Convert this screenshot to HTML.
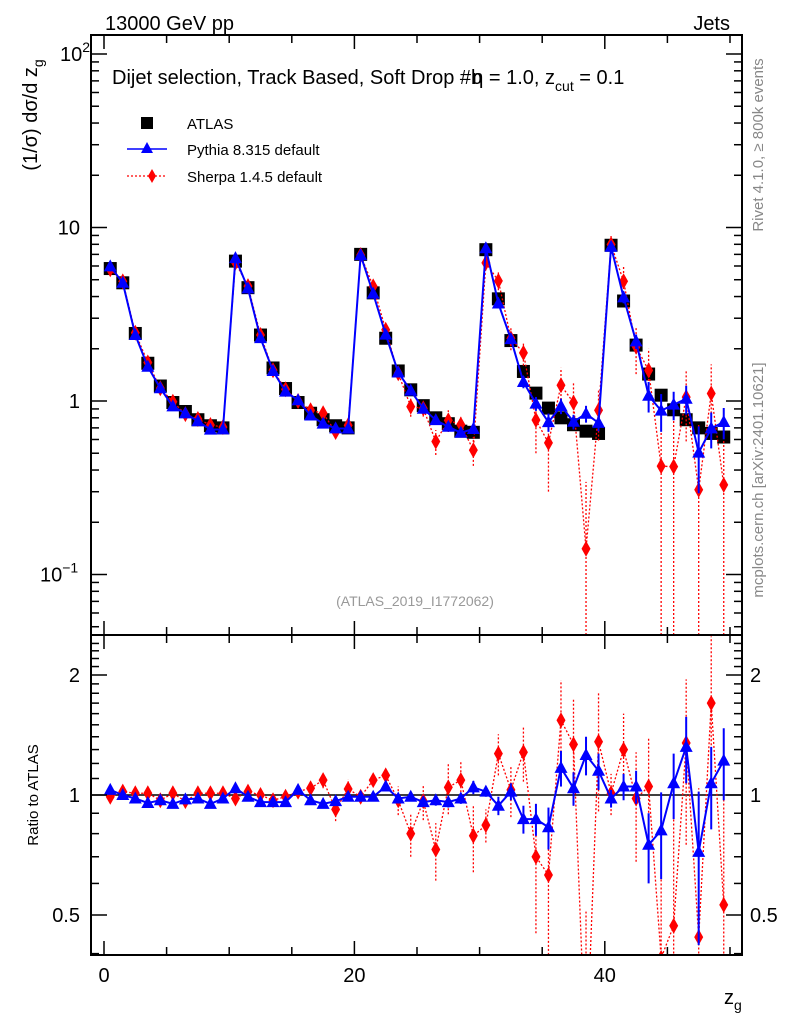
<!DOCTYPE html>
<html><head><meta charset="utf-8"><style>
html,body{margin:0;padding:0;background:#fff;overflow:hidden;width:786px;height:1024px;}
svg{display:block;font-family:"Liberation Sans",sans-serif;}
</style></head><body>
<svg id="c" width="786" height="1024">
<defs>
<clipPath id="cm"><rect x="91" y="35" width="651" height="600"/></clipPath>
<clipPath id="cr"><rect x="91" y="635" width="651" height="320"/></clipPath>
</defs>
<g id="gm" clip-path="url(#cm)"></g>
<g id="gr" clip-path="url(#cr)"></g>
<g id="ax"></g>
<text x="105" y="30" font-size="20">13000 GeV pp</text>
<text x="730" y="30" font-size="20" text-anchor="end">Jets</text>
<text x="112" y="84" font-size="20">Dijet selection, Track Based, Soft Drop #b<tspan dx="-10">η = 1.0, z</tspan><tspan font-size="14" dy="7">cut</tspan><tspan dy="-7"> = 0.1</tspan></text>
<text x="415" y="606" font-size="14" fill="#999" text-anchor="middle">(ATLAS_2019_I1772062)</text>
<text transform="translate(763,145) rotate(-90)" font-size="15" fill="#888" text-anchor="middle">Rivet 4.1.0, ≥ 800k events</text>
<text transform="translate(763,480) rotate(-90)" font-size="15" fill="#888" text-anchor="middle">mcplots.cern.ch [arXiv:2401.10621]</text>
<text transform="translate(37,115) rotate(-90)" font-size="20" text-anchor="middle">(1/σ) dσ/d z<tspan font-size="14" dy="6">g</tspan></text>
<text transform="translate(38,795) rotate(-90)" font-size="15" text-anchor="middle">Ratio to ATLAS</text>
<text x="724" y="1004" font-size="20">z<tspan font-size="14" dy="6">g</tspan></text>
<g>
<rect x="141" y="117" width="12" height="12" fill="#000"/>
<text x="187" y="129" font-size="15">ATLAS</text>
<line x1="127" y1="149" x2="167" y2="149" stroke="#00f" stroke-width="1.5"/>
<polygon points="147,142 153,153 141,153" fill="#00f"/>
<text x="187" y="155" font-size="15">Pythia 8.315 default</text>
<line x1="127" y1="176" x2="167" y2="176" stroke="#f00" stroke-width="1.2" stroke-dasharray="2,2"/>
<polygon points="152,169 156,176 152,183 148,176" fill="#f00"/>
<text x="187" y="182" font-size="15">Sherpa 1.4.5 default</text>
</g>
</svg>
<script>
const bins = Array.from({length:50},(_,i)=>i+0.5);
const atlasValues = [5.8,4.8,2.45,1.65,1.22,0.98,0.87,0.78,0.72,0.70,
 6.4,4.5,2.4,1.55,1.18,0.98,0.85,0.78,0.72,0.70,
 7.0,4.2,2.3,1.49,1.16,0.94,0.80,0.74,0.67,0.66,
 7.45,3.88,2.23,1.48,1.11,0.91,0.80,0.73,0.67,0.65,
 7.9,3.77,2.1,1.43,1.08,0.89,0.78,0.70,0.65,0.62];
const pythiaRatio = [1.03,1.0,0.98,0.955,0.97,0.95,0.975,0.98,0.95,0.98,
 1.04,0.99,0.96,0.96,0.96,1.03,0.97,0.95,0.965,0.99,
 0.99,0.99,1.05,0.98,0.99,0.96,0.97,0.96,0.98,1.045,
 1.02,0.94,1.02,0.87,0.87,0.83,1.17,1.04,1.26,1.15,
 0.98,1.05,1.05,0.75,0.815,1.07,1.32,0.72,1.07,1.22];
const pythiaErr = [0.01,0.01,0.01,0.01,0.01,0.01,0.01,0.01,0.01,0.01,
 0.01,0.01,0.01,0.01,0.01,0.01,0.01,0.01,0.015,0.015,
 0.01,0.015,0.02,0.02,0.025,0.025,0.03,0.03,0.03,0.04,
 0.03,0.05,0.05,0.07,0.08,0.1,0.12,0.1,0.14,0.12,
 0.05,0.08,0.1,0.15,0.2,0.2,0.25,0.3,0.25,0.25];
const sherpaRatio = [0.99,1.02,1.01,1.01,0.97,1.01,0.965,1.01,1.01,1.01,
 0.98,1.02,1.0,0.97,0.99,1.02,1.04,1.09,0.92,1.035,
 0.99,1.09,1.12,0.97,0.80,0.965,0.73,1.045,1.09,0.79,
 0.84,1.27,1.03,1.28,0.70,0.63,1.54,1.34,0.21,1.36,
 1.01,1.30,0.98,1.05,0.39,0.47,1.35,0.44,1.70,0.53];
const sherpaErr = [0.02,0.02,0.02,0.02,0.02,0.02,0.02,0.03,0.03,0.03,
 0.02,0.02,0.02,0.03,0.03,0.04,0.04,0.05,0.06,0.06,
 0.03,0.04,0.05,0.08,0.1,0.1,0.12,0.15,0.12,0.15,
 0.08,0.15,0.15,0.2,0.25,0.3,0.4,0.4,0.3,0.45,
 0.12,0.3,0.3,0.35,0.45,0.5,0.6,0.6,0.8,0.6];
const xTicks = [0,20,40];
const mainTicks = [{v:100,t:"10",s:"2",x:60},{v:10,t:"10",s:"",x:80},{v:1,t:"1",s:"",x:80},{v:0.1,t:"10",s:"−1",x:40}];
const ratioTicks = [{v:2,t:"2"},{v:1,t:"1"},{v:0.5,t:"0.5"}];

const NS="http://www.w3.org/2000/svg";
const X = v => 104 + v*12.52;
const YM = v => 401 - Math.log10(v)*173.5;
const YR = v => 795 - Math.log2(v)*120;
function mk(tag, attrs, parent){const e=document.createElementNS(NS,tag);for(const k in attrs)e.setAttribute(k,attrs[k]);parent.appendChild(e);return e;}
const gm=document.getElementById('gm'), gr=document.getElementById('gr'), ax=document.getElementById('ax');

let f=mk('rect',{x:91,y:35,width:651,height:600,fill:'none',stroke:'#000','stroke-width':2},ax);


f=mk('rect',{x:91,y:635,width:651,height:320,fill:'none',stroke:'#000','stroke-width':2},ax);


for(let v=0;v<=50;v++){
  const major=v%20===0, mid=v%5===0;
  if(!mid) continue;
  const L=major?14:8;
  [[955,-1],[635,1],[635,-1],[35,1]].forEach(([y,d])=>{mk('line',{x1:X(v),x2:X(v),y1:y,y2:y+d*L,stroke:'#000','stroke-width':1.5},ax);});
}
xTicks.forEach(v=>{const t=mk('text',{x:X(v),y:982,'font-size':20,'text-anchor':'middle'},ax);t.textContent=v;

});
for(let e=-2;e<=2;e++){for(let m=1;m<10;m++){const v=m*Math.pow(10,e);const y=YM(v);if(y<35||y>635)continue;
 const L=m===1?16:8;
 mk('line',{x1:91,x2:91+L,y1:y,y2:y,stroke:'#000','stroke-width':1.5},ax);
 mk('line',{x1:742,x2:742-L,y1:y,y2:y,stroke:'#000','stroke-width':1.5},ax);}}
mainTicks.forEach(o=>{const t=mk('text',{x:o.x,y:YM(o.v)+7,'font-size':20,'text-anchor':o.s?'start':'end'},ax);t.textContent=o.t;
 if(o.s){const s=mk('tspan',{dy:-9,'font-size':14},t);s.textContent=o.s;}
 
 });
for(let v=0.4;v<=2.5;v+=0.1){const y=YR(v);if(y<636||y>954)continue;
 const maj=[0.5,1,2].some(m=>Math.abs(m-v)<1e-6);const L=maj?16:8;
 mk('line',{x1:91,x2:91+L,y1:y,y2:y,stroke:'#000','stroke-width':1.5},ax);
 mk('line',{x1:742,x2:742-L,y1:y,y2:y,stroke:'#000','stroke-width':1.5},ax);}
ratioTicks.forEach(o=>{let t=mk('text',{x:80,y:YR(o.v)+7,'font-size':20,'text-anchor':'end'},ax);t.textContent=o.t;
 
 
 t=mk('text',{x:750,y:YR(o.v)+7,'font-size':20},ax);t.textContent=o.t;
 
 });
let ln=mk('line',{x1:91,x2:742,y1:YR(1),y2:YR(1),stroke:'#000','stroke-width':1.5},gr);



function series(g,Y,vals,errs,color,dash,shape,name){
  const pts=bins.map((b,i)=>X(b)+','+Y(vals[i])).join(' ');
  const pl=mk('polyline',{points:pts,fill:'none',stroke:color,'stroke-width':dash?1.3:2,'stroke-dasharray':dash||'none'},g);
  
  
  bins.forEach((b,i)=>{
    const x=X(b),v=vals[i],e=errs[i];
    const lo=Math.max(v-e,1e-4), hi=v+e;
    const eb=mk('line',{x1:x,x2:x,y1:Y(lo),y2:Y(hi),stroke:color,'stroke-width':dash?1.3:2,'stroke-dasharray':dash||'none'},g);
    
    
    const y=Y(v);let m;
    if(shape==='tri') m=mk('polygon',{points:`${x},${y-7} ${x+6.5},${y+5} ${x-6.5},${y+5}`,fill:color},g);
    else m=mk('polygon',{points:`${x},${y-8} ${x+4.5},${y} ${x},${y+8} ${x-4.5},${y}`,fill:color},g);
    
    
  });
}
bins.forEach((b,i)=>{const r=mk('rect',{x:X(b)-6.5,y:YM(atlasValues[i])-6.5,width:13,height:13,fill:'#000'},gm);
 
 });
const pyMain=pythiaRatio.map((r,i)=>r*atlasValues[i]), pyMainErr=pythiaErr.map((e,i)=>e*atlasValues[i]);
const shMain=sherpaRatio.map((r,i)=>r*atlasValues[i]), shMainErr=sherpaErr.map((e,i)=>e*atlasValues[i]);
series(gm,YM,shMain,shMainErr,'#f00','2,2','dia','sherpa');
series(gm,YM,pyMain,pyMainErr,'#00f',null,'tri','pythia');
series(gr,YR,sherpaRatio,sherpaErr,'#f00','2,2','dia','sherpa-ratio');
series(gr,YR,pythiaRatio,pythiaErr,'#00f',null,'tri','pythia-ratio');
</script>
</body></html>
